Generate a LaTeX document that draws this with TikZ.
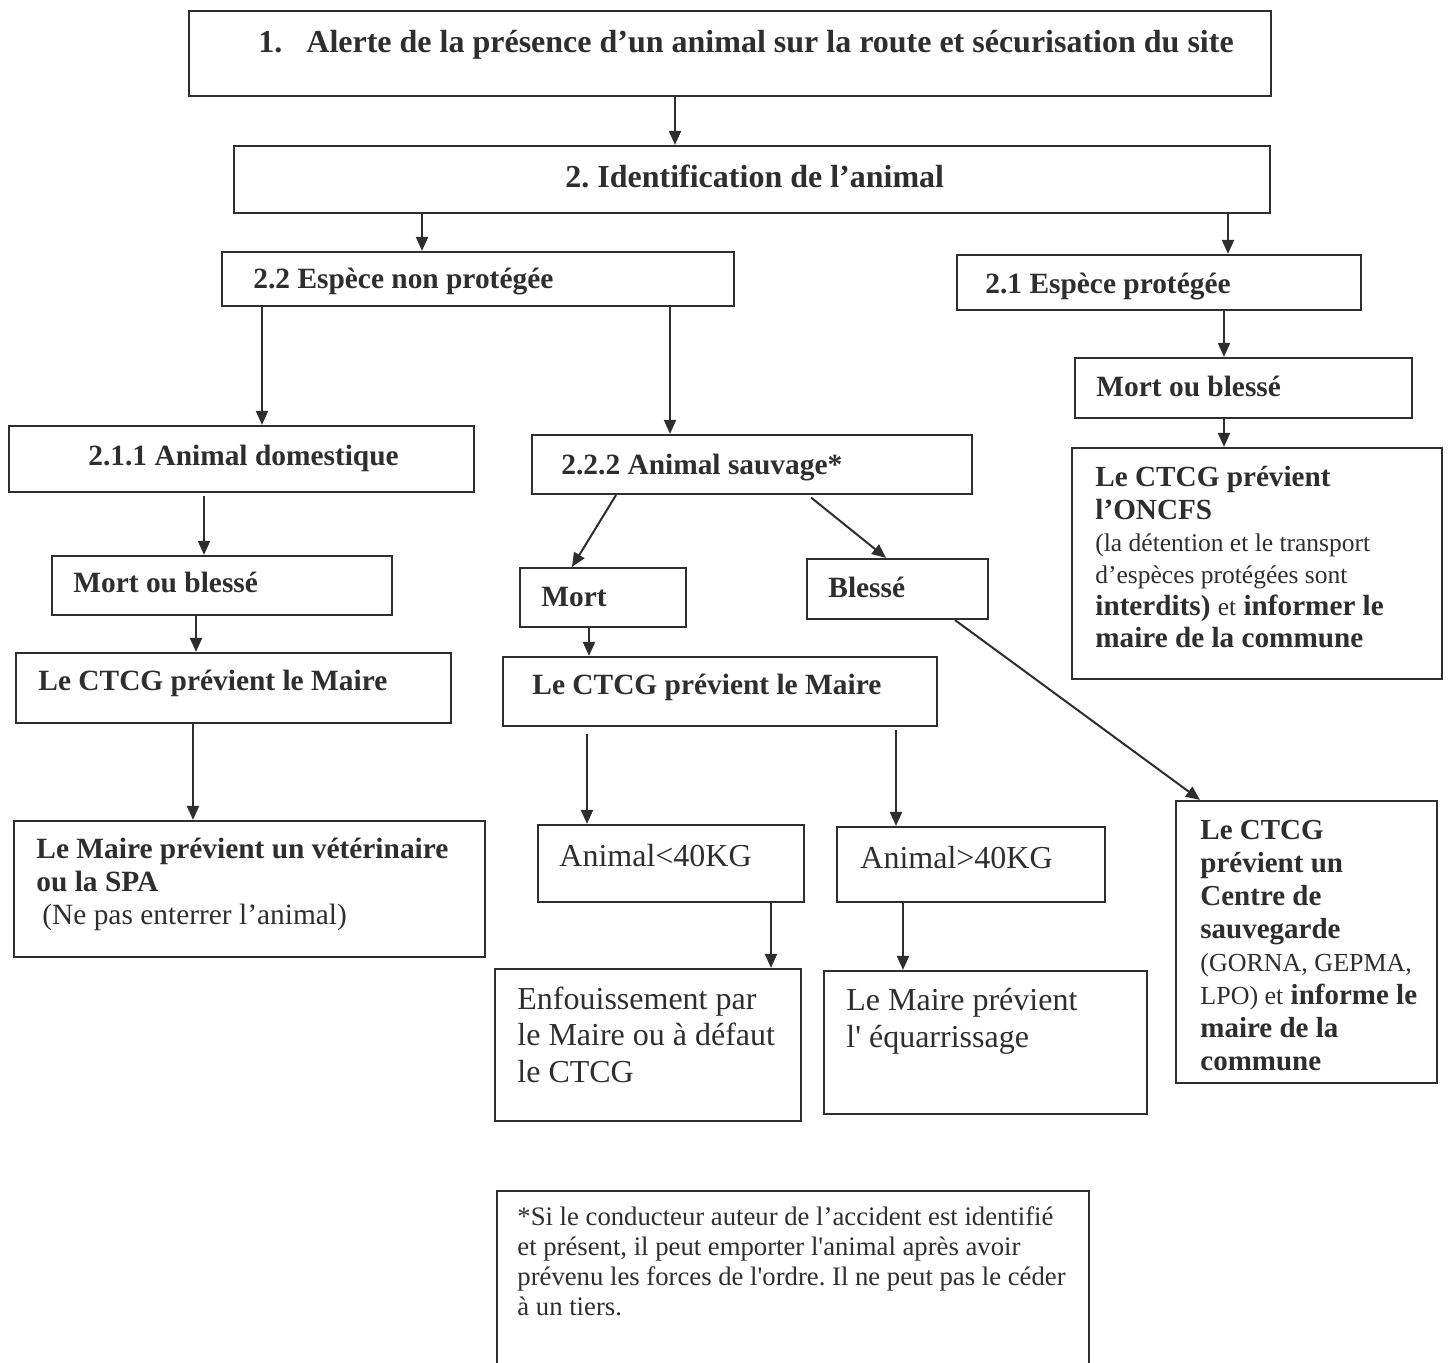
\documentclass[tikz,border=0pt]{standalone}
\usepackage{fontspec}
\setmainfont{Liberation Serif}
\usetikzlibrary{arrows.meta,fit}
\definecolor{ink}{HTML}{2E2E2E}
\tikzset{
  box/.style={draw=ink, line width=1.1pt, inner sep=0pt},
  arr/.style={draw=ink, line width=1pt, -{Triangle[length=7pt,width=6pt]}},
  txt/.style={anchor=base west, align=left, inner sep=0pt, text=ink},
}
\newcommand\fs[2]{\fontsize{#1}{#2}\selectfont}
\newcommand\av[4][0pt]{\path (#4,0) coordinate (tmpx);
  \draw[arr, shorten <=#1] (#2.south -| tmpx) -- (#3.north -| tmpx);}
\newcommand\ad[5][0pt]{\path (#3,0) coordinate (tmpa) (#5,0) coordinate (tmpb);
  \draw[arr, shorten <=#1] (#2.south -| tmpa) -- (#4.north -| tmpb);}
\frenchspacing
\begin{document}
\begin{tikzpicture}[x=0.5pt,y=-0.5pt]
\useasboundingbox[fill=white] (0,0) rectangle (1452,1363);

% boxes
\node[box, fit={(189,11) (1271,96)}] (b1) {};
\node[box, fit={(234,146) (1270,213)}] (b2) {};
\node[box, fit={(222,252) (734,306)}] (b22) {};
\node[box, fit={(957,255) (1361,310)}] (b21) {};
\node[box, fit={(9,426) (474,492)}] (b211) {};
\node[box, fit={(532,435) (972,494)}] (b222) {};
\node[box, fit={(52,556) (392,615)}] (mb1) {};
\node[box, fit={(520,568) (686,627)}] (mort) {};
\node[box, fit={(807,559) (988,619)}] (bles) {};
\node[box, fit={(1075,358) (1412,418)}] (mb2) {};
\node[box, fit={(1072,448) (1442,679)}] (oncfs) {};
\node[box, fit={(16,653) (451,723)}] (ctcg1) {};
\node[box, fit={(503,657) (937,726)}] (ctcg2) {};
\node[box, fit={(14,821) (485,957)}] (vet) {};
\node[box, fit={(538,825) (804,902)}] (lt40) {};
\node[box, fit={(837,827) (1105,902)}] (gt40) {};
\node[box, fit={(495,969) (801,1121)}] (enf) {};
\node[box, fit={(824,971) (1147,1114)}] (equar) {};
\node[box, fit={(1176,801) (1437,1083)}] (centre) {};
\begin{scope}
\clip (0,0) rectangle (1452,1363);
\node[box, fit={(497,1191) (1089,1420)}] (fn) {};
\end{scope}

% texts (multi-line nodes: base = last line)
\node[txt, font=\fs{16}{19}\bfseries] (t1) at (258,53)
  {1.\hspace{12pt}Alerte de la présence d’un animal sur la route et sécurisation du site};
\node[txt, font=\fs{16}{19}\bfseries] (t2) at (565,188) {2. Identification de l’animal};
\node[txt, font=\fs{14.7}{17}\bfseries] (t22) at (253,289) {2.2 Espèce non protégée};
\node[txt, font=\fs{14.7}{17}\bfseries] (t21) at (985,294) {2.1 Espèce protégée};
\node[txt, font=\fs{14.7}{17}\bfseries] (t211) at (88,466) {2.1.1 Animal domestique};
\node[txt, font=\fs{14.7}{17}\bfseries] (t222) at (561,475) {2.2.2 Animal sauvage*};
\node[txt, font=\fs{14.7}{17}\bfseries] (tmb1) at (73,593) {Mort ou blessé};
\node[txt, font=\fs{14.7}{17}\bfseries] (tmort) at (541,607) {Mort};
\node[txt, font=\fs{14.7}{17}\bfseries] (tbles) at (828,598) {Blessé};
\node[txt, font=\fs{14.7}{17}\bfseries] (tmb2) at (1096,397) {Mort ou blessé};
\node[txt, font=\fs{14.6}{16.1}] (toncfs) at (1095,648)
  {\textbf{Le CTCG prévient}\\
   \textbf{l’ONCFS}\\
   {\fs{12.75}{16.1}(la détention et le transport}\\
   {\fs{12.75}{16.1}d’espèces protégées sont}\\
   \textbf{interdits)} {\fs{12.75}{16.1}et} \textbf{informer le}\\
   \textbf{maire de la commune}};
\node[txt, font=\fs{14.7}{17}\bfseries] (tctcg1) at (38,691) {Le CTCG prévient le Maire};
\node[txt, font=\fs{14.7}{17}\bfseries] (tctcg2) at (532,695) {Le CTCG prévient le Maire};
\node[txt, font=\fs{14.7}{16.5}] (tvet) at (36,924)
  {\textbf{Le Maire prévient un vétérinaire}\\
   \textbf{ou la SPA}\\
   \hspace{3pt}(Ne pas enterrer l’animal)};
\node[txt, font=\fs{16}{18.25}] (tlt40) at (559,866) {Animal<40KG};
\node[txt, font=\fs{16}{18.25}] (tgt40) at (860,868) {Animal>40KG};
\node[txt, font=\fs{16}{18.25}] (tenf) at (517,1082)
  {Enfouissement par\\le Maire ou à défaut\\le CTCG};
\node[txt, font=\fs{16}{18.25}] (tequar) at (846,1047)
  {Le Maire prévient\\l\textquotesingle\ équarrissage};
\node[txt, font=\fs{14.5}{16.5}\bfseries] (tcentre) at (1200,1070)
  {Le CTCG\\prévient un\\Centre de\\sauvegarde\\
   {\mdseries\fs{13}{16.5}(GORNA, GEPMA,}\\
   {\mdseries\fs{13}{16.5}LPO) et} informe le\\
   maire de la\\commune};
\node[txt, font=\fs{13.35}{15}] (tfn) at (517,1315)
  {*Si le conducteur auteur de l’accident est identifié\\
   et présent, il peut emporter l\textquotesingle animal après avoir\\
   prévenu les forces de l\textquotesingle ordre. Il ne peut pas le céder\\
   à un tiers.};

% connectors
\av{b1}{b2}{675}
\av{b2}{b22}{422}
\av{b2}{b21}{1228}
\av{b22}{b211}{262}
\av{b22}{b222}{670}
\av{b21}{mb2}{1224}
\av{mb2}{oncfs}{1224}
\av[1.5pt]{b211}{mb1}{204}
\av{mb1}{ctcg1}{196}
\av{ctcg1}{vet}{193}
\ad{b222}{616}{mort}{572}
\ad[2pt]{b222}{808}{bles}{886}
\av{mort}{ctcg2}{589}
\ad{bles}{955}{centre}{1200}
\av[3.5pt]{ctcg2}{lt40}{587}
\av[1.5pt]{ctcg2}{gt40}{896}
\av{lt40}{enf}{771}
\av{gt40}{equar}{903}
\end{tikzpicture}
\end{document}
